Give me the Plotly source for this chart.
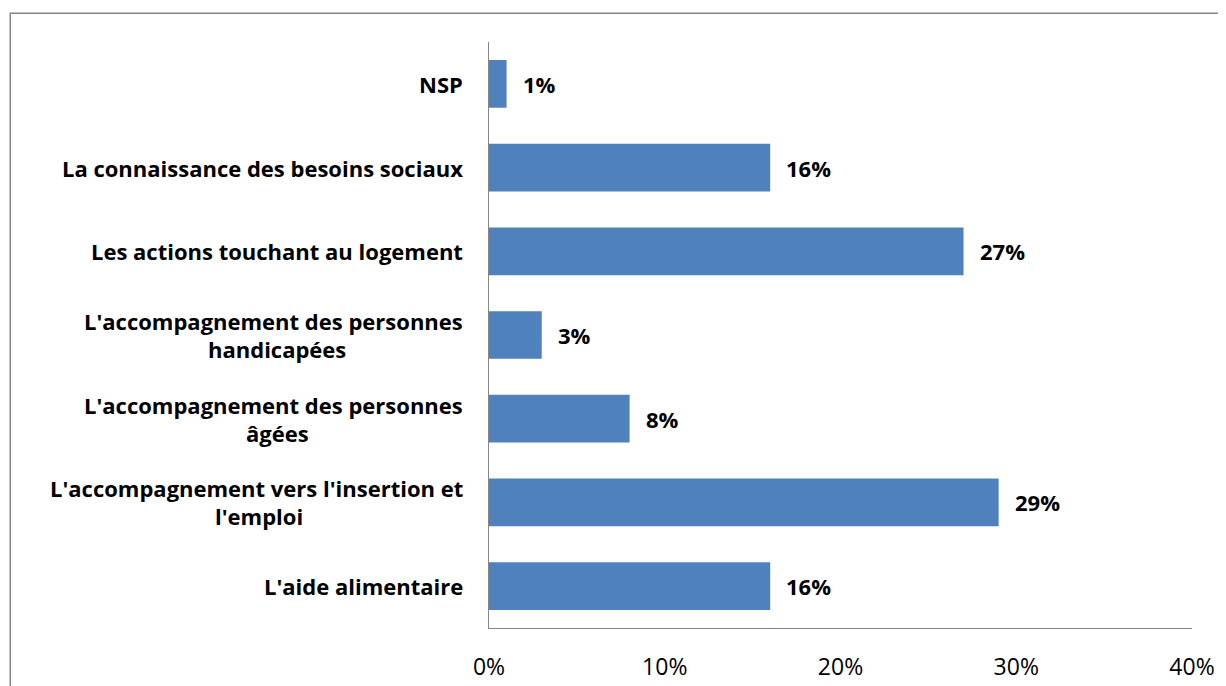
import plotly.graph_objects as go

categories = [
    "L'aide alimentaire",
    "L'accompagnement vers l'insertion et<br>l'emploi",
    "L'accompagnement des personnes<br>âgées",
    "L'accompagnement des personnes<br>handicapées",
    "Les actions touchant au logement",
    "La connaissance des besoins sociaux",
    "NSP",
]
values = [0.16, 0.29, 0.08, 0.03, 0.27, 0.16, 0.01]
tick_vals = [0, 0.1, 0.2, 0.3, 0.4]
tick_text = ["0%", "10%", "20%", "30%", "40%"]

FONT = "Open Sans"
FS = 22
LABEL_GAP = 24        # px between label block and axis
LINE_STEP = 14        # half line spacing for two-line labels
# rendered width (px) of the first line of wrapped labels, used to centre line 2
first_line_width = {
    "L'accompagnement vers l'insertion et": 413,
    "L'accompagnement des personnes": 376,
}

fig = go.Figure(go.Bar(
    x=values, y=categories, orientation="h",
    marker=dict(color="#4F81BD", line=dict(width=0)),
    width=0.57, hoverinfo="skip",
))

for c, v in zip(categories, values):
    fig.add_annotation(x=v, y=c, text=f"<b>{round(v*100)}%</b>", showarrow=False,
                       xanchor="left", xshift=14,
                       font=dict(family=FONT, size=FS, color="#000"))
    parts = c.split("<br>")
    if len(parts) == 1:
        fig.add_annotation(x=0, xref="paper", y=c, text=f"<b>{c}</b>", showarrow=False,
                           xanchor="right", xshift=-LABEL_GAP,
                           font=dict(family=FONT, size=FS, color="#000"))
    else:
        w = first_line_width[parts[0]]
        fig.add_annotation(x=0, xref="paper", y=c, text=f"<b>{parts[0]}</b>", showarrow=False,
                           xanchor="right", xshift=-LABEL_GAP, yshift=LINE_STEP,
                           font=dict(family=FONT, size=FS, color="#000"))
        fig.add_annotation(x=0, xref="paper", y=c, text=f"<b>{parts[1]}</b>", showarrow=False,
                           xanchor="center", xshift=-LABEL_GAP - w / 2, yshift=-LINE_STEP,
                           font=dict(family=FONT, size=FS, color="#000"))

fig.update_layout(
    width=1226, height=686,
    margin=dict(l=481, r=42, t=34, b=62),
    paper_bgcolor="white", plot_bgcolor="white",
    showlegend=False,
    font=dict(family=FONT, color="#000"),
    xaxis=dict(range=[0, 0.4], tickvals=tick_vals, ticktext=tick_text, showgrid=False,
               zeroline=False, showline=True, linecolor="#868686", linewidth=1,
               ticks="", tickfont=dict(size=23, family=FONT), ticklabelstandoff=18,
               fixedrange=True),
    yaxis=dict(showgrid=False, zeroline=False, showline=True, linecolor="#868686", linewidth=1,
               ticks="", showticklabels=False, fixedrange=True),
    shapes=[dict(type="rect", xref="paper", yref="paper", x0=-0.681, x1=1.2, y0=-0.3, y1=1.049,
                 line=dict(color="#868686", width=1.5), fillcolor="rgba(0,0,0,0)", layer="below")],
)

fig.write_html("out.html")
